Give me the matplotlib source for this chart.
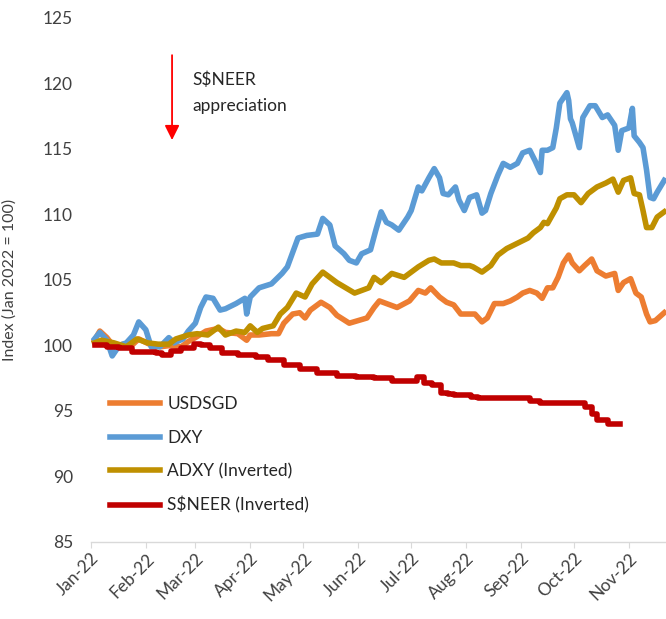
import numpy as np
import pandas as pd
import matplotlib
matplotlib.use("Agg")
import matplotlib.pyplot as plt
import matplotlib.dates as mdates

plt.rcParams['font.family'] = ['Lato', 'DejaVu Sans']

# values (index, Jan 2022 = 100)
usdsgd_dates = ["2022-01-03", "2022-01-06", "2022-01-10", "2022-01-14", "2022-01-19", "2022-01-24",
                "2022-01-28", "2022-02-03", "2022-02-09", "2022-02-15", "2022-02-21", "2022-02-25",
                "2022-03-01", "2022-03-07", "2022-03-14", "2022-03-18", "2022-03-25", "2022-03-30",
                "2022-04-01", "2022-04-06", "2022-04-13", "2022-04-17", "2022-04-20", "2022-04-25",
                "2022-04-29", "2022-05-02", "2022-05-05", "2022-05-11", "2022-05-16", "2022-05-20",
                "2022-05-27", "2022-06-01", "2022-06-06", "2022-06-10", "2022-06-13", "2022-06-17",
                "2022-06-23", "2022-06-30", "2022-07-05", "2022-07-09", "2022-07-12", "2022-07-17",
                "2022-07-21", "2022-07-25", "2022-07-29", "2022-08-02", "2022-08-06", "2022-08-10",
                "2022-08-13", "2022-08-17", "2022-08-22", "2022-08-26", "2022-08-30", "2022-09-02",
                "2022-09-06", "2022-09-10", "2022-09-13", "2022-09-16", "2022-09-19", "2022-09-22",
                "2022-09-25", "2022-09-28", "2022-09-30", "2022-10-04", "2022-10-07", "2022-10-11",
                "2022-10-14", "2022-10-19", "2022-10-24", "2022-10-26", "2022-10-29", "2022-11-02",
                "2022-11-05", "2022-11-08", "2022-11-11", "2022-11-13", "2022-11-16", "2022-11-21"]
usdsgd = [100.4, 101.1, 100.6, 99.9, 100.1, 100.0,
          100.5, 100.1, 99.9, 100.0, 99.9, 100.3,
          100.6, 101.1, 101.3, 101.0, 100.9, 100.4,
          100.8, 100.8, 100.9, 100.9, 101.7, 102.4,
          102.5, 102.1, 102.7, 103.3, 102.9, 102.3,
          101.7, 101.9, 102.1, 102.9, 103.4, 103.2,
          102.9, 103.4, 104.2, 104.0, 104.4, 103.7,
          103.3, 103.1, 102.4, 102.4, 102.4, 101.8,
          102.1, 103.2, 103.2, 103.4, 103.7, 104.0,
          104.2, 104.0, 103.6, 104.4, 104.4, 105.2,
          106.3, 106.9, 106.3, 105.7, 106.1, 106.6,
          105.7, 105.3, 105.5, 104.2, 104.8, 105.1,
          104.0, 103.7, 102.4, 101.8, 101.9, 102.5]

dxy_dates = ["2022-01-03", "2022-01-06", "2022-01-10", "2022-01-13", "2022-01-17", "2022-01-21",
             "2022-01-25", "2022-01-28", "2022-02-01", "2022-02-04", "2022-02-09", "2022-02-14",
             "2022-02-17", "2022-02-22", "2022-02-25", "2022-03-01", "2022-03-04", "2022-03-07",
             "2022-03-11", "2022-03-15", "2022-03-18", "2022-03-24", "2022-03-29", "2022-03-30",
             "2022-04-01", "2022-04-06", "2022-04-13", "2022-04-19", "2022-04-22", "2022-04-28",
             "2022-05-03", "2022-05-09", "2022-05-12", "2022-05-16", "2022-05-19", "2022-05-24",
             "2022-05-27", "2022-05-31", "2022-06-03", "2022-06-08", "2022-06-11", "2022-06-14",
             "2022-06-17", "2022-06-20", "2022-06-24", "2022-06-29", "2022-07-01", "2022-07-05",
             "2022-07-07", "2022-07-11", "2022-07-14", "2022-07-17", "2022-07-19", "2022-07-22",
             "2022-07-26", "2022-07-28", "2022-07-31", "2022-08-03", "2022-08-07", "2022-08-10",
             "2022-08-12", "2022-08-15", "2022-08-19", "2022-08-22", "2022-08-26", "2022-08-30",
             "2022-09-02", "2022-09-06", "2022-09-09", "2022-09-12", "2022-09-13", "2022-09-16",
             "2022-09-19", "2022-09-21", "2022-09-23", "2022-09-27", "2022-09-28", "2022-09-29",
             "2022-09-30", "2022-10-04", "2022-10-06", "2022-10-10", "2022-10-13", "2022-10-17",
             "2022-10-20", "2022-10-24", "2022-10-26", "2022-10-28", "2022-11-01", "2022-11-03",
             "2022-11-04", "2022-11-07", "2022-11-09", "2022-11-11", "2022-11-13", "2022-11-15",
             "2022-11-17", "2022-11-21"]
dxy = [100.5, 101.0, 100.4, 99.2, 100.0, 100.2,
       100.8, 101.8, 101.2, 99.9, 99.9, 100.6,
       100.2, 100.5, 101.1, 101.7, 102.9, 103.7,
       103.6, 102.7, 102.8, 103.2, 103.6, 102.4,
       103.7, 104.4, 104.7, 105.5, 106.0, 108.2,
       108.4, 108.5, 109.7, 109.2, 107.6, 107.0,
       106.5, 106.3, 107.0, 107.3, 108.8, 110.2,
       109.4, 109.2, 108.8, 109.8, 110.3, 112.1,
       111.8, 112.8, 113.5, 112.8, 111.6, 111.5,
       112.1, 111.1, 110.3, 111.3, 111.5, 110.1,
       110.3, 111.6, 113.0, 113.9, 113.6, 113.9,
       114.7, 114.9, 114.1, 113.2, 114.9, 114.9,
       115.1, 116.6, 118.5, 119.3, 118.7, 117.3,
       117.0, 115.1, 117.4, 118.3, 118.3, 117.4,
       117.6, 116.8, 114.9, 116.4, 116.6, 118.1,
       116.0, 115.5, 115.1, 113.4, 111.3, 111.2,
       111.7, 112.6]

adxy_dates = ["2022-01-03", "2022-01-07", "2022-01-14", "2022-01-21", "2022-01-27", "2022-02-02",
              "2022-02-08", "2022-02-14", "2022-02-18", "2022-02-25", "2022-03-02", "2022-03-08",
              "2022-03-14", "2022-03-18", "2022-03-24", "2022-03-29", "2022-04-01", "2022-04-05",
              "2022-04-08", "2022-04-14", "2022-04-18", "2022-04-22", "2022-04-27", "2022-05-02",
              "2022-05-06", "2022-05-12", "2022-05-16", "2022-05-20", "2022-05-25", "2022-05-30",
              "2022-06-03", "2022-06-07", "2022-06-10", "2022-06-14", "2022-06-20", "2022-06-27",
              "2022-07-01", "2022-07-05", "2022-07-11", "2022-07-14", "2022-07-18", "2022-07-25",
              "2022-07-29", "2022-08-03", "2022-08-05", "2022-08-10", "2022-08-15", "2022-08-19",
              "2022-08-24", "2022-08-30", "2022-09-05", "2022-09-08", "2022-09-12", "2022-09-14",
              "2022-09-16", "2022-09-21", "2022-09-23", "2022-09-27", "2022-10-01", "2022-10-05",
              "2022-10-09", "2022-10-14", "2022-10-19", "2022-10-23", "2022-10-26", "2022-10-29",
              "2022-11-02", "2022-11-04", "2022-11-07", "2022-11-09", "2022-11-11", "2022-11-14",
              "2022-11-17", "2022-11-21"]
adxy = [100.2, 100.4, 100.2, 99.9, 100.5, 100.2,
        100.1, 100.1, 100.5, 100.8, 100.9, 100.8,
        101.4, 100.8, 101.1, 101.0, 101.5, 101.0,
        101.3, 101.5, 102.4, 102.9, 104.0, 103.7,
        104.7, 105.6, 105.2, 104.8, 104.4, 104.0,
        104.2, 104.4, 105.2, 104.8, 105.5, 105.2,
        105.6, 106.0, 106.5, 106.6, 106.3, 106.3,
        106.1, 106.1, 106.0, 105.6, 106.1, 106.9,
        107.4, 107.8, 108.2, 108.6, 109.0, 109.4,
        109.3, 110.5, 111.2, 111.5, 111.5, 110.9,
        111.6, 112.1, 112.4, 112.7, 111.7, 112.6,
        112.8, 111.6, 111.5, 110.3, 109.0, 109.0,
        109.8, 110.2]

sneer_dates = ["2022-01-03", "2022-01-10", "2022-01-17", "2022-01-24", "2022-02-07", "2022-02-10",
               "2022-02-15", "2022-02-21", "2022-02-28", "2022-03-04", "2022-03-09", "2022-03-16",
               "2022-03-25", "2022-04-04", "2022-04-11", "2022-04-20", "2022-04-29", "2022-05-09",
               "2022-05-20", "2022-05-31", "2022-06-10", "2022-06-20", "2022-07-04", "2022-07-08",
               "2022-07-13", "2022-07-18", "2022-07-22", "2022-07-25", "2022-08-04", "2022-08-08",
               "2022-09-06", "2022-09-12", "2022-10-07", "2022-10-11", "2022-10-14", "2022-10-20",
               "2022-10-27"]
sneer = [100.0, 99.9, 99.8, 99.5, 99.4, 99.3,
         99.6, 99.8, 100.1, 100.0, 99.8, 99.4,
         99.3, 99.1, 98.9, 98.5, 98.2, 97.9,
         97.7, 97.6, 97.5, 97.3, 97.6, 97.1,
         97.0, 96.4, 96.3, 96.2, 96.1, 96.0,
         95.8, 95.6, 95.3, 94.8, 94.3, 94.0,
         94.0]

fig = plt.figure(figsize=(6.66, 6.19), dpi=100)
ax = fig.add_axes([0.1366, 0.1244, 0.8634, 0.8466])

lw = 4.0
ax.plot(pd.to_datetime(usdsgd_dates), usdsgd, color='#ED7D31', lw=lw, label='USDSGD')
ax.plot(pd.to_datetime(dxy_dates), dxy, color='#5B9BD5', lw=lw, label='DXY')
ax.plot(pd.to_datetime(adxy_dates), adxy, color='#BF9000', lw=lw, label='ADXY (Inverted)')
ax.plot(pd.to_datetime(sneer_dates), sneer, color='#C00000', lw=lw, drawstyle='steps-post',
        label='S\\$NEER (Inverted)')

ax.set_ylim(85, 125)
ax.set_yticks(np.arange(85, 126, 5))
ax.set_xlim(pd.Timestamp("2022-01-01"), pd.Timestamp("2022-11-22"))
ax.xaxis.set_major_locator(mdates.MonthLocator())
ax.xaxis.set_major_formatter(mdates.DateFormatter('%b-%y'))

for s in ['top', 'right', 'left']:
    ax.spines[s].set_visible(False)
ax.spines['bottom'].set_color('#d9d9d9')
ax.spines['bottom'].set_linewidth(1.0)

ax.tick_params(axis='y', length=0, pad=13, labelsize=12.5, labelcolor='#404040')
ax.tick_params(axis='x', length=4, color='#d9d9d9', labelsize=12.5, labelcolor='#404040', pad=2)
for lab in ax.get_xticklabels():
    lab.set_rotation(45)
    lab.set_ha('right')
    lab.set_rotation_mode('anchor')

ax.set_ylabel('Index (Jan 2022 = 100)', fontsize=11.5, color='#404040')
ax.yaxis.set_label_coords(-0.129, 0.5)

ax.legend(loc='upper left', bbox_to_anchor=(0.033, 0.278), frameon=False, fontsize=12.5,
          handlelength=2.9, handletextpad=0.4, labelspacing=1.0, borderpad=0,
          borderaxespad=0, labelcolor='#262626')

# red arrow and note
ax.annotate('', xy=(0.141, 0.767), xytext=(0.141, 0.929), xycoords='axes fraction',
            arrowprops=dict(arrowstyle='-|>', color='#FF0000', lw=1.3,
                            mutation_scale=22, shrinkA=0, shrinkB=0))
ax.text(0.176, 0.857, 'S\\$NEER\nappreciation', transform=ax.transAxes, fontsize=12.5,
        color='#262626', va='center', ha='left', linespacing=1.75)

fig.savefig('out.png', dpi=100)
